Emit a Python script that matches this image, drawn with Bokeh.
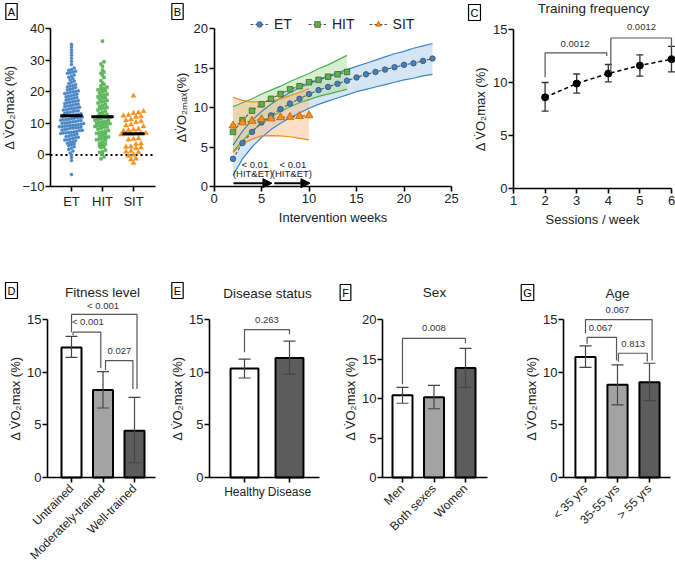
import math
import numpy as np
from bokeh.plotting import figure
from bokeh.layouts import column, row
from bokeh.models import (Range1d, FixedTicker, Label, Arrow, NormalHead,
                          Legend, LegendItem)
from bokeh.embed import file_html
from bokeh.resources import INLINE

FONT = "Liberation Sans"
YLAB = "\u0394 V\u0307O\u2082max (%)"
YLAB_B = "\u0394V\u0307O\u2082\u2098\u2090\u2093(%)"

# ---------------- data ----------------
groups_A = ["ET", "HIT", "SIT"]
et_vals = [35.0, 34.2, 33.3, 32.4, 31.5, 30.6, 29.6, 28.6,
           27.5, 27.0, 26.8, 26.5, 26.2, 26.0, 25.8,
           25.3, 25.0, 24.6, 24.2,
           23.8, 23.4, 23.0, 22.6, 22.3, 22.0,
           21.8, 21.5, 21.3, 21.0, 20.8, 20.6, 20.3, 20.1, 20.0,
           19.8, 19.6, 19.4, 19.2, 19.0, 18.8, 18.6, 18.4, 18.2, 18.0,
           17.8, 17.6, 17.4, 17.2, 17.0, 16.9, 16.7, 16.5, 16.3, 16.1, 16.0,
           15.8, 15.6, 15.5, 15.3, 15.1, 15.0, 14.8, 14.7, 14.5, 14.3, 14.2, 14.0,
           13.9, 13.7, 13.5, 13.4, 13.2, 13.0, 12.9, 12.7, 12.6, 12.5, 12.4, 12.2, 12.1, 12.0,
           11.9, 11.8, 11.6, 11.5, 11.3, 11.2, 11.1, 11.0, 10.9, 10.8, 10.6, 10.5, 10.3, 10.2, 10.1, 10.0,
           9.9, 9.7, 9.6, 9.5, 9.4, 9.3, 9.2, 9.1, 9.0, 8.9, 8.8, 8.7, 8.6, 8.5, 8.4, 8.2, 8.0,
           7.9, 7.8, 7.7, 7.5, 7.3, 7.2, 7.1, 7.0, 6.9, 6.8, 6.6, 6.4, 6.2, 6.0,
           5.8, 5.6, 5.5, 5.3, 5.0, 4.8, 4.7, 4.5, 4.2, 4.0,
           3.7, 3.5, 3.3, 3.0, 2.6, 2.2,
           1.8, 1.2, 0.6, 0.0,
           -0.8, -1.8, -6.2]
hit_vals = [36.0, 29.5, 28.8, 28.0,
            26.8, 26.2, 25.8, 25.2, 24.5,
            23.5, 22.8, 22.3,
            21.8, 21.4, 21.0, 20.8, 20.6, 20.3, 20.0,
            19.6, 19.2, 19.0, 18.8, 18.4, 18.1, 18.0,
            17.6, 17.2, 17.0, 16.8, 16.4, 16.0,
            15.7, 15.3, 15.0, 14.8, 14.6, 14.2,
            13.8, 13.5, 13.1, 12.8, 12.5, 12.4, 12.2, 12.0, 11.9,
            11.8, 11.5, 11.2, 11.0, 10.9, 10.6, 10.5, 10.3, 10.0,
            9.9, 9.8, 9.7, 9.4, 9.2, 9.0, 8.8, 8.7, 8.4, 8.1,
            7.7, 7.5, 7.3, 7.0, 6.8, 6.6, 6.3, 6.0,
            5.7, 5.5, 5.3, 5.0, 4.8, 4.6, 4.2,
            3.7, 3.5, 3.2, 2.8, 2.5, 2.3,
            1.5, 1.0, 0.8, 0.2,
            -0.6, -1.2]
sit_vals = [18.7, 13.8, 13.4, 13.2, 12.6, 12.4, 12.2, 12.0, 11.2, 10.9, 10.6, 10.3,
            9.6, 9.3, 9.0, 8.2, 8.0, 7.8, 7.6, 6.9, 6.8, 6.7, 6.6, 6.5, 6.4,
            5.2, 5.0, 4.8, 3.6, 3.4, 2.6, 2.5, 2.3, 2.1, 1.2, 1.0, 0.8, 0.0,
            -0.3, -1.2, -1.5, -2.6]
medians_A = [12.4, 12.1, 6.7]

weeks_et = list(range(2, 24))
et_mean = [3.5, 5.5, 6.9, 8.1, 9.0, 9.8, 10.5, 11.1, 11.7, 12.2, 12.6, 13.0, 13.4,
           13.8, 14.2, 14.5, 14.8, 15.1, 15.4, 15.6, 15.9, 16.2]
et_lo = [1.4, 3.5, 5.0, 6.2, 7.2, 8.0, 8.7, 9.3, 9.9, 10.4, 10.8, 11.2, 11.6,
         12.0, 12.3, 12.6, 12.9, 13.2, 13.5, 13.7, 14.0, 14.2]
et_hi = [5.2, 7.0, 8.4, 9.5, 10.4, 11.2, 11.9, 12.5, 13.0, 13.5, 14.0, 14.4, 14.8,
         15.2, 15.6, 16.0, 16.4, 16.8, 17.1, 17.5, 17.8, 18.1]
weeks_hit = list(range(2, 15))
hit_mean = [6.9, 8.4, 9.6, 10.4, 11.1, 11.7, 12.3, 12.7, 13.2, 13.5, 13.9, 14.2, 14.5]
hit_lo = [4.4, 5.8, 7.0, 8.0, 8.8, 9.5, 10.1, 10.6, 11.0, 11.4, 11.7, 12.0, 12.3]
hit_hi = [10.1, 10.6, 11.1, 11.7, 12.2, 12.7, 13.3, 13.8, 14.3, 14.9, 15.4, 16.0, 16.6]
weeks_sit = list(range(2, 11))
sit_mean = [7.7, 8.1, 8.3, 8.5, 8.6, 8.75, 8.8, 8.9, 9.0]
sit_lo = [4.3, 5.4, 6.0, 6.4, 6.45, 6.4, 6.3, 6.1, 5.9]
sit_hi = [11.3, 10.9, 10.7, 10.7, 10.8, 11.1, 11.5, 11.9, 12.4]

sessions = [2, 3, 4, 5, 6]
freq_mean = [8.6, 9.9, 10.85, 11.6, 12.2]
freq_lo = [7.3, 9.0, 10.05, 10.6, 11.0]
freq_hi = [10.0, 10.8, 11.7, 12.6, 13.4]

fitness_cats = ["Untrained", "Moderately-trained", "Well-trained"]
fitness_mean = [12.35, 8.3, 4.45]
fitness_lo = [11.4, 6.6, 1.4]
fitness_hi = [13.4, 10.05, 7.6]

disease_cats = ["Healthy", "Disease"]
disease_mean = [10.35, 11.35]
disease_lo = [9.45, 9.8]
disease_hi = [11.25, 12.95]

sex_cats = ["Men", "Both sexes", "Women"]
sex_mean = [10.4, 10.15, 13.85]
sex_lo = [9.4, 8.7, 11.4]
sex_hi = [11.4, 11.65, 16.35]

age_cats = ["< 35 yrs", "35-55 yrs", "> 55 yrs"]
age_mean = [11.45, 8.8, 9.05]
age_lo = [10.45, 6.9, 7.3]
age_hi = [12.5, 10.7, 10.85]

# brackets: x1, x2, top, left end, right end, text, text x, text y
brackets_C = [(2.0, 3.95, 12.8, 10.5, 12.5, "0.0012", 2.95, 13.65),
              (4.08, 6.0, 14.2, 11.0, 13.3, "0.0012", 5.05, 15.2)]
brackets_D = [(1.0, 3.08, 15.5, 13.8, 8.4, "< 0.001", 2.0, 16.3),
              (1.05, 1.93, 13.8, 13.5, 10.4, "< 0.001", 1.52, 14.8),
              (2.08, 2.95, 11.1, 10.2, 8.4, "0.027", 2.52, 12.0)]
brackets_E = [(1.0, 2.0, 14.05, 11.9, 13.6, "0.263", 1.5, 15.0)]
brackets_F = [(1.0, 3.0, 17.6, 11.8, 17.0, "0.008", 2.0, 18.9)]
brackets_G = [(1.0, 3.08, 15.0, 13.7, 11.1, "0.067", 2.0, 15.9),
              (1.05, 1.97, 13.3, 12.7, 11.1, "0.067", 1.47, 14.2),
              (2.03, 2.93, 11.8, 11.0, 11.0, "0.813", 2.49, 12.7)]

BAR_COLORS = ["white", "#a3a3a3", "#5c5c5c"]

# ---------------- geometry (page pixels) ----------------
def geom(x0, y0, w, h, axpx, axpy, xa, ya, ppx, ppy, xend_px, yb):
    return dict(x0=x0, y0=y0, w=w, h=h, axpx=axpx, axpy=axpy, xa=xa, ya=ya,
                ppx=ppx, ppy=ppy, xend_px=xend_px, yb=yb)

TOP_Y0, TOP_H = 0, 278
BOT_Y0, BOT_H = 278, 287
BOT_AX = 477
gA = geom(0, TOP_Y0, 165, TOP_H, 50, 186, 1 - 21 / 31.0, -10, 31.0, 3.16, 155, (-10, 40))
gB = geom(165, TOP_Y0, 295, TOP_H, 213.5, 186, 0, 0, 9.5, 7.9, None, (0, 20))
gC = geom(460, TOP_Y0, 215, TOP_H, 513, 188, 1, 0, 31.6, 10.6, None, (0, 15))
gD = geom(0, BOT_Y0, 170, BOT_H, 47, BOT_AX, 1 - 24 / 31.5, 0, 31.5, 10.53, 155, (0, 15))
gE = geom(170, BOT_Y0, 165, BOT_H, 209, BOT_AX, 1 - 35 / 45.0, 0, 45.0, 10.53, 319, (0, 15))
gF = geom(335, BOT_Y0, 165, BOT_H, 382, BOT_AX, 1 - 20 / 31.5, 0, 31.5, 7.9, 487, (0, 20))
gG = geom(500, BOT_Y0, 175, BOT_H, 563, BOT_AX, 1 - 22 / 32.0, 0, 32.0, 10.53, 670, (0, 15))


def to_data(g, px, py):
    return (g['xa'] + (px - g['axpx']) / g['ppx'],
            g['ya'] + (g['axpy'] - py) / g['ppy'])


def make_fig(g):
    x_lo, y_hi = to_data(g, g['x0'], g['y0'])
    x_hi, y_lo = to_data(g, g['x0'] + g['w'], g['y0'] + g['h'])
    p = figure(width=g['w'], height=g['h'], x_range=Range1d(x_lo, x_hi),
               y_range=Range1d(y_lo, y_hi), output_backend="svg",
               toolbar_location=None, tools="", min_border=0,
               min_border_left=0, min_border_right=0, min_border_top=0,
               min_border_bottom=0)
    p.outline_line_color = None
    p.xgrid.visible = False
    p.ygrid.visible = False
    p.background_fill_color = "white"
    p.border_fill_color = "white"
    p.xaxis.fixed_location = g['ya']
    p.yaxis.fixed_location = g['xa']
    xb_end = g['xend_px']
    if xb_end is not None:
        p.xaxis.bounds = (g['xa'], to_data(g, xb_end, 0)[0])
    p.yaxis.bounds = g['yb']
    for ax in p.axis:
        ax.axis_line_width = 1.6
        ax.axis_line_color = "black"
        ax.major_tick_line_width = 1.6
        ax.major_tick_line_color = "black"
        ax.major_tick_out = 5
        ax.major_tick_in = 0
        ax.minor_tick_line_color = None
        ax.major_label_text_font = FONT
        ax.major_label_text_font_size = "13px"
        ax.major_label_text_color = "#222222"
        ax.axis_label_text_font = FONT
        ax.axis_label_text_font_size = "13px"
        ax.axis_label_text_font_style = "normal"
        ax.axis_label_text_color = "#222222"
        ax.major_label_standoff = 2
        ax.axis_label_standoff = 4
    p.yaxis.major_label_standoff = 1
    p.yaxis.axis_label_standoff = 2
    return p


def letter(p, g, txt, px, py):
    x, y = to_data(g, px, py)
    p.add_layout(Label(x=x, y=y, text=txt, text_align="center",
                       text_baseline="middle", text_font=FONT,
                       text_font_size="11px", text_color="black",
                       border_line_color="black", border_line_width=1.2,
                       background_fill_color="white", padding=2))


def title(p, g, txt, px, py):
    x, y = to_data(g, px, py)
    p.add_layout(Label(x=x, y=y, text=txt, text_align="center",
                       text_baseline="middle", text_font=FONT,
                       text_font_size="13.5px", text_color="#222222"))


def draw_brackets(p, brs):
    xs, ys = [], []
    for (x1, x2, top, yl, yr, txt, tx, ty) in brs:
        xs.append([x1, x1, x2, x2])
        ys.append([yl, top, top, yr])
        p.add_layout(Label(x=tx, y=ty, text=txt, text_align="center",
                           text_baseline="middle", text_font=FONT,
                           text_font_size="9.5px", text_color="#333333"))
    p.multi_line(xs, ys, line_color="#555555", line_width=1.2)


def row_offsets(vals, ppy, row_h, d):
    vals = np.asarray(vals, float)
    rows = np.round(vals * ppy / row_h).astype(int)
    off = np.zeros(len(vals))
    for r in np.unique(rows):
        idx = np.where(rows == r)[0]
        idx = idx[np.argsort(vals[idx])]
        n = len(idx)
        for k, i in enumerate(idx):
            off[i] = (k - (n - 1) / 2.0) * d
    return off

# ---------------- Panel A ----------------
pA = make_fig(gA)
specs = [(et_vals, "circle", 3.0, "#4a86c5", 3.3, 2.7),
         (hit_vals, "square", 2.9, "#5cb85c", 3.3, 3.0),
         (sit_vals, "triangle", 5.0, "#f5901e", 5.2, 5.0)]
pA.segment(x0=[gA['xa']], y0=[0], x1=[to_data(gA, 155, 0)[0]], y1=[0],
           line_color="black", line_width=2, line_dash="2 3")
for i, (vals, mk, sz, col, rh, d) in enumerate(specs):
    off = row_offsets(vals, gA['ppy'], rh, d)
    xs = [i + 1 + o / gA['ppx'] for o in off]
    pA.scatter(xs, vals, marker=mk, size=sz, fill_color=col, line_color=col,
               line_width=0.5)
pA.segment(x0=[c - 0.36 for c in (1, 2, 3)], y0=medians_A,
           x1=[c + 0.36 for c in (1, 2, 3)], y1=medians_A,
           line_color="black", line_width=3)
pA.xaxis.ticker = FixedTicker(ticks=[1, 2, 3])
pA.xaxis.major_label_overrides = {1: "ET", 2: "HIT", 3: "SIT"}
pA.xaxis.major_label_standoff = 2
pA.yaxis.ticker = FixedTicker(ticks=[-10, 0, 10, 20, 30, 40])
pA.yaxis.axis_label = YLAB
letter(pA, gA, "A", 11, 11)

# ---------------- Panel B ----------------
pB = make_fig(gB)
series_B = [
    (weeks_et, et_mean, et_lo, et_hi, "#3d85c6", "#a9cbea", "circle", 5.5, "#4a7fb5", "#2c4f78", "ET"),
    (weeks_hit, hit_mean, hit_lo, hit_hi, "#4caf50", "#b4dca0", "square", 5.5, "#62ad4e", "#2f6e25", "HIT"),
    (weeks_sit, sit_mean, sit_lo, sit_hi, "#f28a1e", "#f9c08a", "triangle", 8, "#f39019", "#b85f0c", "SIT"),
]
for (wk, m, lo, hi, col, fill, mk, sz, mf, ml, nm) in series_B:
    pB.varea(x=wk, y1=lo, y2=hi, fill_color=fill, fill_alpha=0.5)
for (wk, m, lo, hi, col, fill, mk, sz, mf, ml, nm) in series_B:
    pB.line(wk, lo, line_color=col, line_width=1.2)
    pB.line(wk, hi, line_color=col, line_width=1.2)
items = []
for (wk, m, lo, hi, col, fill, mk, sz, mf, ml, nm) in series_B:
    ln = pB.line(wk, m, line_color="#555555", line_width=1.1, line_dash="3 2")
    sc = pB.scatter(wk, m, marker=mk, size=sz, fill_color=mf, line_color=ml,
                    line_width=0.8)
    items.append(LegendItem(label=nm, renderers=[ln, sc]))
legend = Legend(items=items, orientation="horizontal",
                location=(250 - gB['x0'], gB['h'] - 32),
                border_line_color=None, background_fill_alpha=0,
                label_text_font=FONT, label_text_font_size="14px",
                label_text_color="#222222", glyph_width=18, glyph_height=14,
                label_standoff=6, spacing=14, margin=0, padding=2,
                label_height=14)
pB.add_layout(legend)
for (xs_, xe_) in [(2.05, 6.1), (6.35, 10.1)]:
    pB.add_layout(Arrow(end=NormalHead(size=9, fill_color="black",
                                       line_color="black"),
                        x_start=xs_, y_start=0.42, x_end=xe_, y_end=0.42,
                        line_width=2, line_color="black"))
for (tx, txt, ty) in [(4.3, "< 0.01", 2.8), (4.1, "(HIT&ET)", 1.6),
                      (8.3, "< 0.01", 2.8), (8.2, "(HIT&ET)", 1.6)]:
    pB.add_layout(Label(x=tx, y=ty, text=txt, text_align="center",
                        text_baseline="middle", text_font=FONT,
                        text_font_size="9.5px", text_color="#222222"))
pB.xaxis.ticker = FixedTicker(ticks=[0, 5, 10, 15, 20, 25])
pB.xaxis.bounds = (0, 25)
pB.yaxis.ticker = FixedTicker(ticks=[0, 5, 10, 15, 20])
pB.xaxis.axis_label = "Intervention weeks"
pB.yaxis.axis_label = YLAB_B
letter(pB, gB, "B", 177, 11)

# ---------------- Panel C ----------------
pC = make_fig(gC)
pC.line(sessions, freq_mean, line_color="black", line_width=1.5, line_dash="4 3")
pC.segment(x0=sessions, y0=freq_lo, x1=sessions, y1=freq_hi,
           line_color="#333333", line_width=1.3)
pC.scatter(sessions + sessions, freq_lo + freq_hi, marker="dash", size=7,
           line_color="#333333", line_width=1.3)
pC.scatter(sessions, freq_mean, marker="circle", size=7, fill_color="black",
           line_color="black")
draw_brackets(pC, brackets_C)
pC.xaxis.ticker = FixedTicker(ticks=[1, 2, 3, 4, 5, 6])
pC.xaxis.bounds = (1, 6)
pC.yaxis.ticker = FixedTicker(ticks=[0, 5, 10, 15])
pC.xaxis.axis_label = "Sessions / week"
pC.yaxis.axis_label = YLAB
letter(pC, gC, "C", 474, 12)
title(pC, gC, "Training frequency", 593, 8)

# ---------------- Bar panels ----------------
def bar_panel(g, cats, means, los, his, colors, width, brs, ymax_tick, rotate,
              let, let_pos, ttl, ttl_pos):
    p = make_fig(g)
    x = list(range(1, len(means) + 1))
    p.vbar(x=x, top=means, bottom=0, width=width, fill_color=colors,
           line_color="black", line_width=2)
    p.segment(x0=x, y0=los, x1=x, y1=his, line_color="#444444", line_width=1.2)
    p.scatter(x + x, los + his, marker="dash", size=12, line_color="#444444",
              line_width=1.2)
    draw_brackets(p, brs)
    p.xaxis.ticker = FixedTicker(ticks=x)
    p.xaxis.major_label_overrides = {i + 1: c for i, c in enumerate(cats)}
    if rotate:
        p.xaxis.major_label_orientation = math.pi / 4
        p.xaxis.major_label_text_font_size = "12px"
        p.xaxis.major_label_standoff = 4
    else:
        p.xaxis.major_label_text_font_size = "12px"
    p.yaxis.ticker = FixedTicker(ticks=list(range(0, ymax_tick + 1, 5)))
    p.yaxis.axis_label = YLAB
    p.yaxis.axis_label_standoff = 1
    letter(p, g, let, *let_pos)
    title(p, g, ttl, *ttl_pos)
    return p

pD = bar_panel(gD, fitness_cats, fitness_mean, fitness_lo, fitness_hi,
               BAR_COLORS, 0.635, brackets_D, 15, True, "D", (11, 290),
               "Fitness level", (102, 292))
pE = bar_panel(gE, disease_cats, disease_mean, disease_lo, disease_hi,
               [BAR_COLORS[0], BAR_COLORS[2]], 0.62, brackets_E, 15, False,
               "E", (177, 290), "Disease status", (267, 293))
pF = bar_panel(gF, sex_cats, sex_mean, sex_lo, sex_hi, BAR_COLORS, 0.635,
               brackets_F, 20, True, "F", (345, 292), "Sex", (434, 292))
pG = bar_panel(gG, age_cats, age_mean, age_lo, age_hi, BAR_COLORS, 0.63,
               brackets_G, 15, True, "G", (527, 292), "Age", (617, 293))

layout = column(row(pA, pB, pC), row(pD, pE, pF, pG))
open("out.html", "w").write(file_html(layout, INLINE))
